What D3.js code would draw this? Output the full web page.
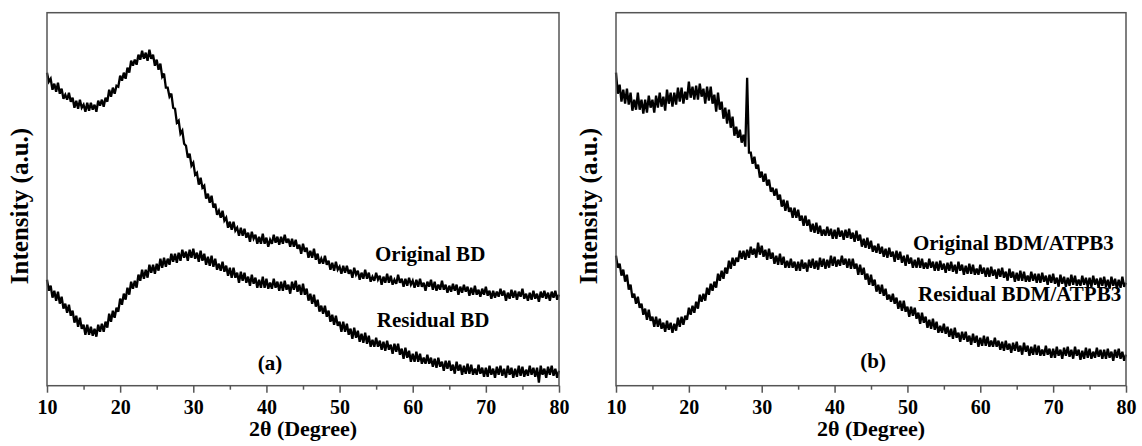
<!DOCTYPE html>
<html>
<head>
<meta charset="utf-8">
<script src="https://cdn.jsdelivr.net/npm/d3@7"></script>
<style>
  html, body { margin: 0; padding: 0; background: #fff; }
  svg { display: block; }
  text { font-family: "Liberation Serif", "Times New Roman", serif; font-weight: bold; fill: #000; }
</style>
</head>
<body>
<svg id="chart" width="1142" height="446"></svg>
<script>
// ---- data (intensity in arbitrary units, 2θ sampled every 0.25°) ----
const twoTheta = d3.range(10, 80.0001, 0.25);

const originalBD = [
313,304,307,296, 302,294,303,292, 297,287,291,286, 293,284,288,278, 285,277,286,278,
281,274,283,275, 283,276,281,274, 285,280,286,279, 288,284,296,289, 298,292,300,299,
310,305,313,307, 318,313,325,320, 326,321,331,326, 335,327,333,325, 336,327,331,320,
326,316,322,309, 312,298,298,289, 292,278,277,263, 265,252,255,242, 240,228,232,220,
223,211,213,201, 208,198,200,187, 192,183,190,178, 182,171,175,168, 175,165,168,158,
164,156,164,155, 158,150,158,150, 157,148,153,144, 154,147,151,142, 149,142,152,142,
148,139,146,142, 151,143,149,141, 149,142,151,143, 147,139,147,139, 146,137,141,132,
142,134,138,128, 135,128,137,126, 132,122,127,122, 130,121,125,116, 123,115,124,116,
119,112,120,113, 120,112,116,108, 118,111,115,106, 113,107,116,107, 113,104,109,105,
113,106,110,101, 109,103,112,103, 110,101,106,102, 111,103,107,99, 107,100,108,101,
105,98,106,99, 107,99,103,95, 104,99,106,96, 104,95,101,96, 105,96,101,93,
100,94,102,95, 101,91,99,93, 101,94,99,90, 98,91,100,91, 96,89,97,91,
99,90,95,87, 95,88,94,89, 97,90,95,85, 93,87,96,88, 95,86,94,89,
97,87,92,85, 93,86,95,87, 92,84,94,88, 95,87,93,85, 94,88,95,86,
91];

const residualBD = [
106,95,100,88, 95,85,94,82, 89,77,82,73, 81,70,75,63, 70,59,68,57,
61,51,61,51, 59,50,57,49, 61,54,62,54, 64,58,72,64, 75,68,78,74,
87,81,92,86, 98,91,104,97, 105,98,111,105, 116,107,116,108, 121,113,121,112,
122,115,127,118, 128,119,127,121, 132,124,132,123, 133,125,136,128, 134,125,136,128,
137,127,133,124, 135,125,132,121, 129,120,130,119, 127,116,122,115, 124,114,120,110,
118,108,118,108, 113,103,114,105, 113,103,109,100, 111,102,108,98, 106,98,109,98,
107,97,103,97, 107,98,104,95, 104,95,105,96, 101,92,104,96, 105,94,101,91,
102,91,97,85, 92,82,91,79, 86,74,80,72, 80,69,75,64, 71,61,70,60,
64,54,64,54, 62,51,57,47, 58,48,55,44, 52,43,53,42, 50,39,46,39,
48,39,45,36, 44,35,45,36, 41,32,42,34, 42,31,37,27, 38,28,35,24,
32,24,34,24, 32,22,28,22, 31,22,28,19, 27,18,28,19, 24,15,25,17,
25,15,21,12, 24,15,21,11, 20,12,22,12, 21,11,17,11, 21,12,18,9,
18,9,20,11, 17,8,19,11, 20,10,17,8, 20,11,18,8, 17,9,20,10,
19,9,16,10, 20,11,18,9, 18,3,20,11, 17,8,19,11, 20,10,17,8,
15];

const originalBDM = [
313,292,301,284, 296,282,297,281, 293,275,286,276, 293,276,286,272, 286,273,290,278,
286,273,290,278, 293,279,289,275, 296,282,293,279, 293,281,298,284, 298,282,294,286,
304,288,299,286, 300,286,302,289, 297,282,299,285, 299,282,291,274, 293,276,284,267,
278,262,276,258, 269,250,259,248, 256,243,251,239, 308,233,233,222, 229,217,221,208,
214,204,212,200, 206,194,198,190, 197,186,191,179, 186,175,185,174, 178,168,178,168,
176,165,170,160, 170,160,166,154, 162,153,163,152, 160,150,156,150, 159,150,157,147,
156,147,158,149, 155,146,156,148, 157,147,153,144, 155,145,151,139, 147,138,148,137,
145,134,140,133, 142,132,139,129, 137,128,138,129, 134,124,135,126, 134,123,130,120,
131,122,128,118, 126,118,128,118, 127,117,123,117, 127,118,124,115, 124,115,125,116,
122,113,123,115, 124,114,121,112, 124,115,121,111, 120,112,122,112, 121,111,117,111,
121,112,118,109, 118,109,119,110, 116,107,117,109, 118,108,114,105, 117,108,114,104,
113,105,115,105, 114,104,110,104, 114,105,112,103, 112,103,113,104, 110,101,111,103,
112,102,108,99, 111,102,109,99, 108,100,111,101, 110,100,106,100, 110,101,108,99,
108,99,110,101, 107,98,108,100, 109,99,106,97, 109,100,107,97, 106,98,109,99,
103];

const residualBDM = [
130,118,122,110, 116,104,111,96, 101,88,92,82, 89,78,82,71, 77,66,76,65,
69,59,69,59, 67,57,63,54, 65,56,63,53, 62,55,68,59, 69,61,70,66,
78,71,80,73, 84,77,91,84, 92,85,98,91, 102,95,104,98, 112,105,115,107,
118,112,125,117, 128,120,128,124, 135,127,135,126, 136,128,139,131, 137,128,143,131,
140,129,136,126, 137,127,133,122, 130,121,132,121, 129,118,125,118, 127,118,124,115,
124,115,126,117, 123,114,126,118, 127,117,125,116, 128,119,127,117, 126,118,130,120,
129,119,126,120, 130,121,127,118, 127,117,127,117, 122,111,121,111, 118,106,112,101,
111,100,106,94, 101,92,101,90, 97,86,91,84, 92,82,88,77, 85,75,85,74,
79,69,79,70, 78,67,73,62, 73,63,69,58, 66,57,67,56, 64,53,60,53,
62,52,59,49, 57,47,58,48, 53,44,54,46, 54,44,50,41, 52,43,50,39,
48,40,50,40, 49,39,45,39, 48,39,45,36, 44,35,45,36, 42,33,43,35,
44,34,40,31, 43,34,40,30, 39,31,41,31, 40,30,36,30, 40,31,37,28,
37,28,39,30, 36,27,38,30, 39,29,36,27, 39,30,36,26, 35,27,38,28,
37,27,34,28, 38,29,36,27, 36,27,37,28, 34,25,36,28, 37,27,34,25,
31];

const xTickValues = [10, 20, 30, 40, 50, 60, 70, 80];
const xMinorTicks = [15, 25, 35, 45, 55, 65, 75];
const xTitle = "2\u03b8 (Degree)";
const yTitle = "Intensity (a.u.)";

const panels = [
  { left: 47, right: 559, tag: "(a)", tagAt: [40.5, 15.7],
    series: [
      { values: originalBD, label: "Original BD", at: [54.85, 124.7] },
      { values: residualBD, label: "Residual BD", at: [55.1, 58.7] }
    ] },
  { left: 616, right: 1126, tag: "(b)", tagAt: [45.3, 17.7],
    series: [
      { values: originalBDM, label: "Original BDM/ATPB3", at: [50.76, 135.7] },
      { values: residualBDM, label: "Residual BDM/ATPB3", at: [51.45, 84.7] }
    ] }
];

// ---- drawing ----
const svg = d3.select("#chart");
const plotTop = 12.7, plotBottom = 385.7;
const y = d3.scaleLinear().domain([0, 373]).range([plotBottom, plotTop]);

panels.forEach(p => {
  const x = d3.scaleLinear().domain([10, 80]).range([p.left, p.right]);
  const g = svg.append("g");

  const line = d3.line().x((d, i) => x(twoTheta[i])).y(d => y(d));
  p.series.forEach(s => {
    g.append("path")
      .datum(s.values)
      .attr("d", line)
      .attr("fill", "none")
      .attr("stroke", "#000")
      .attr("stroke-width", 2.3)
      .attr("stroke-linejoin", "miter")
      .attr("stroke-miterlimit", 3);
    g.append("text")
      .attr("x", x(s.at[0])).attr("y", y(s.at[1]))
      .attr("font-size", 21)
      .text(s.label);
  });

  g.append("text")
    .attr("x", x(p.tagAt[0])).attr("y", y(p.tagAt[1]))
    .attr("text-anchor", "middle")
    .attr("font-size", 21)
    .text(p.tag);

  // frame
  g.append("rect")
    .attr("x", p.left).attr("y", plotTop)
    .attr("width", p.right - p.left).attr("height", plotBottom - plotTop)
    .attr("fill", "none").attr("stroke", "#555").attr("stroke-width", 1.5);

  // major ticks + labels
  const ax = g.append("g").attr("transform", `translate(0,${plotBottom})`)
    .call(d3.axisBottom(x).tickValues(xTickValues).tickSize(7).tickPadding(7).tickFormat(d3.format("d")));
  ax.select(".domain").remove();
  ax.selectAll(".tick line").attr("stroke", "#555").attr("stroke-width", 1.5);
  ax.selectAll(".tick text")
    .attr("font-size", 20)
    .attr("font-family", "Liberation Serif, Times New Roman, serif")
    .attr("font-weight", "bold");

  // minor ticks
  const mx = g.append("g").attr("transform", `translate(0,${plotBottom})`)
    .call(d3.axisBottom(x).tickValues(xMinorTicks).tickSize(4).tickFormat(""));
  mx.select(".domain").remove();
  mx.selectAll(".tick line").attr("stroke", "#555").attr("stroke-width", 1.5);

  // axis titles
  g.append("text")
    .attr("x", (p.left + p.right) / 2).attr("y", 436)
    .attr("text-anchor", "middle").attr("font-size", 22)
    .text(xTitle);
  g.append("text")
    .attr("transform", `translate(${p.left - 19},${206}) rotate(-90)`)
    .attr("text-anchor", "middle").attr("font-size", 25)
    .text(yTitle);
});
</script>
</body>
</html>
